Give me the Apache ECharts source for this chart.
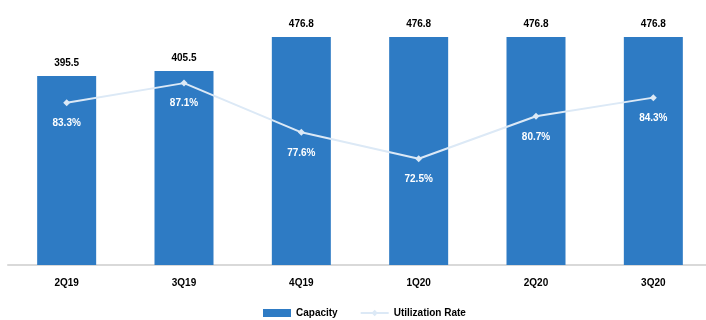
<!DOCTYPE html>
<html><head><meta charset="utf-8">
<script src="https://cdn.jsdelivr.net/npm/echarts@6/dist/echarts.min.js"></script>
<style>html,body{margin:0;padding:0;background:#fff;overflow:hidden}#c{width:716px;height:320px}</style>
</head><body><div id="c"></div>
<script>
const categories = ["2Q19", "3Q19", "4Q19", "1Q20", "2Q20", "3Q20"];
const capacity = [395.5, 405.5, 476.8, 476.8, 476.8, 476.8];
const utilization = [83.3, 87.1, 77.6, 72.5, 80.7, 84.3];

const chart = echarts.init(document.getElementById('c'));
chart.setOption({
  animation: false,
  textStyle: {fontFamily: 'Arial, Liberation Sans, sans-serif'},
  grid: {left: 8, width: 704, top: 37, bottom: 55, containLabel: false},
  legend: {
    left: 258, top: 303, itemWidth: 28, itemHeight: 8, itemGap: 22,
    textStyle: {fontSize: 10, fontWeight: 'bold', color: '#000'},
    data: [{name: 'Capacity', icon: 'rect'}, {name: 'Utilization Rate'}]
  },
  xAxis: {
    type: 'category', data: categories,
    axisLine: {lineStyle: {color: '#d9d9d9', width: 2}},
    axisTick: {show: false},
    axisLabel: {fontSize: 10, fontWeight: 'bold', color: '#000', margin: 13}
  },
  yAxis: [
    {type: 'value', min: 0, max: 476.8, show: false, splitLine: {show: false}},
    {type: 'value', min: 52, max: 96, show: false, splitLine: {show: false}}
  ],
  series: [
    {
      name: 'Capacity', type: 'bar', data: capacity, barWidth: 59,
      itemStyle: {color: '#2e7bc4'},
      label: {show: true, position: 'top', distance: 8, fontSize: 10, fontWeight: 'bold', color: '#000',
        formatter: p => p.value.toFixed(1)}
    },
    {
      name: 'Utilization Rate', type: 'line', yAxisIndex: 1, data: utilization,
      lineStyle: {color: '#dce9f6', width: 2}, itemStyle: {color: '#dce9f6'},
      symbol: 'diamond', symbolSize: 7,
      label: {show: true, position: 'bottom', distance: 12, fontSize: 10, fontWeight: 'bold', color: '#fff',
        formatter: p => p.value.toFixed(1) + '%'}
    }
  ]
});
</script></body></html>
